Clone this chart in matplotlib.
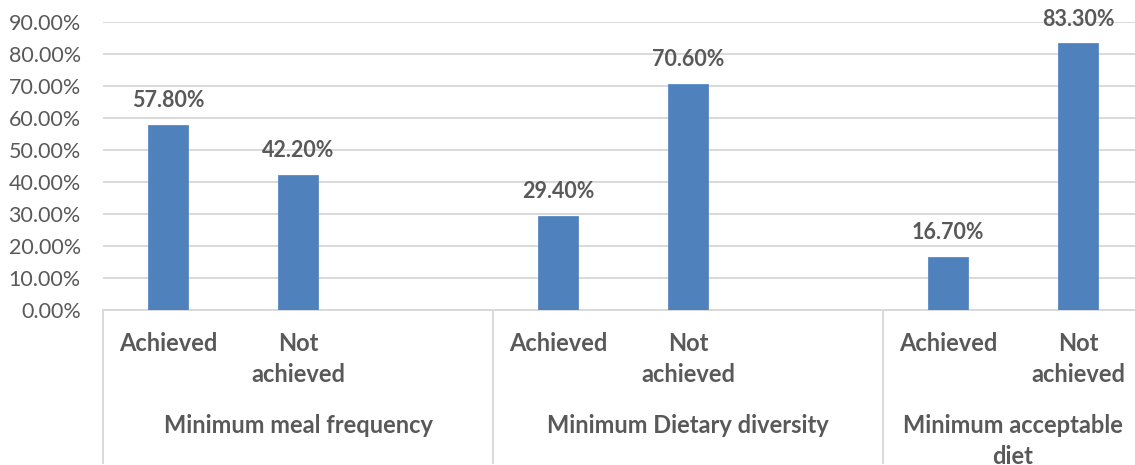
import matplotlib
matplotlib.use("Agg")
import matplotlib.pyplot as plt
import matplotlib.transforms as mtransforms

plt.rcParams['font.family'] = ['Lato', 'DejaVu Sans']

groups = ["Minimum meal frequency", "Minimum Dietary diversity", "Minimum acceptable\ndiet"]
outcomes = ["Achieved", "Not\nachieved"]
values = [
    [57.8, 42.2],
    [29.4, 70.6],
    [16.7, 83.3],
]

text_grey = "#595959"
grid_grey = "#d9d9d9"
bar_blue = "#4f81bd"

fig = plt.figure(figsize=(11.35, 4.65), dpi=100)
# Each group takes 3 slots (two bars + a gap); the last group has no trailing gap
slots_per_group = 3
n_slots = slots_per_group * len(groups) - 1
ax = fig.add_axes([103 / 1135, 155 / 465, 1040 / 1135, 288 / 465])

xs, hs = [], []
for gi, vals in enumerate(values):
    for oi, v in enumerate(vals):
        xs.append(gi * slots_per_group + oi + 0.5)
        hs.append(v)

bars = ax.bar(xs, hs, width=0.31, color=bar_blue, edgecolor="#5a8ac6", linewidth=0.6, zorder=3)
for x, h in zip(xs, hs):
    ax.annotate(f"{h:.2f}%", (x, h), xytext=(0, 10), textcoords="offset points",
                ha="center", va="bottom", fontsize=15.5, fontweight="bold",
                color=text_grey)

ax.set_xlim(0, n_slots)
ax.set_ylim(0, 90)
ax.set_yticks(range(0, 91, 10))
ax.set_yticklabels([f"{t:.2f}%" for t in range(0, 91, 10)])
ax.tick_params(axis="y", length=0, labelsize=15.5, labelcolor=text_grey, pad=16)
ax.set_xticks([])
ax.grid(axis="y", color=grid_grey, linewidth=1.4, zorder=0)
for side in ["top", "right", "left"]:
    ax.spines[side].set_visible(False)
ax.spines["bottom"].set_color(grid_grey)
ax.spines["bottom"].set_linewidth(1.4)

# Multi-level category axis: outcome labels, group labels and separators
trans = mtransforms.blended_transform_factory(ax.transData, ax.transAxes)
for x, gi_oi in zip(xs, [(g, o) for g in range(len(groups)) for o in range(len(outcomes))]):
    ax.text(x, -0.078, outcomes[gi_oi[1]], transform=trans, ha="center", va="top",
            fontsize=17, fontweight="bold", color=text_grey, linespacing=1.42)
for gi, name in enumerate(groups):
    start = gi * slots_per_group
    end = min(start + slots_per_group, n_slots)
    ax.text((start + end) / 2, -0.362, name, transform=trans, ha="center", va="top",
            fontsize=17, fontweight="bold", color=text_grey, linespacing=1.42)
    ax.plot([start, start], [0, -0.53], transform=trans, color=grid_grey,
            linewidth=1.4, clip_on=False)

fig.savefig("out.png", dpi=100)
